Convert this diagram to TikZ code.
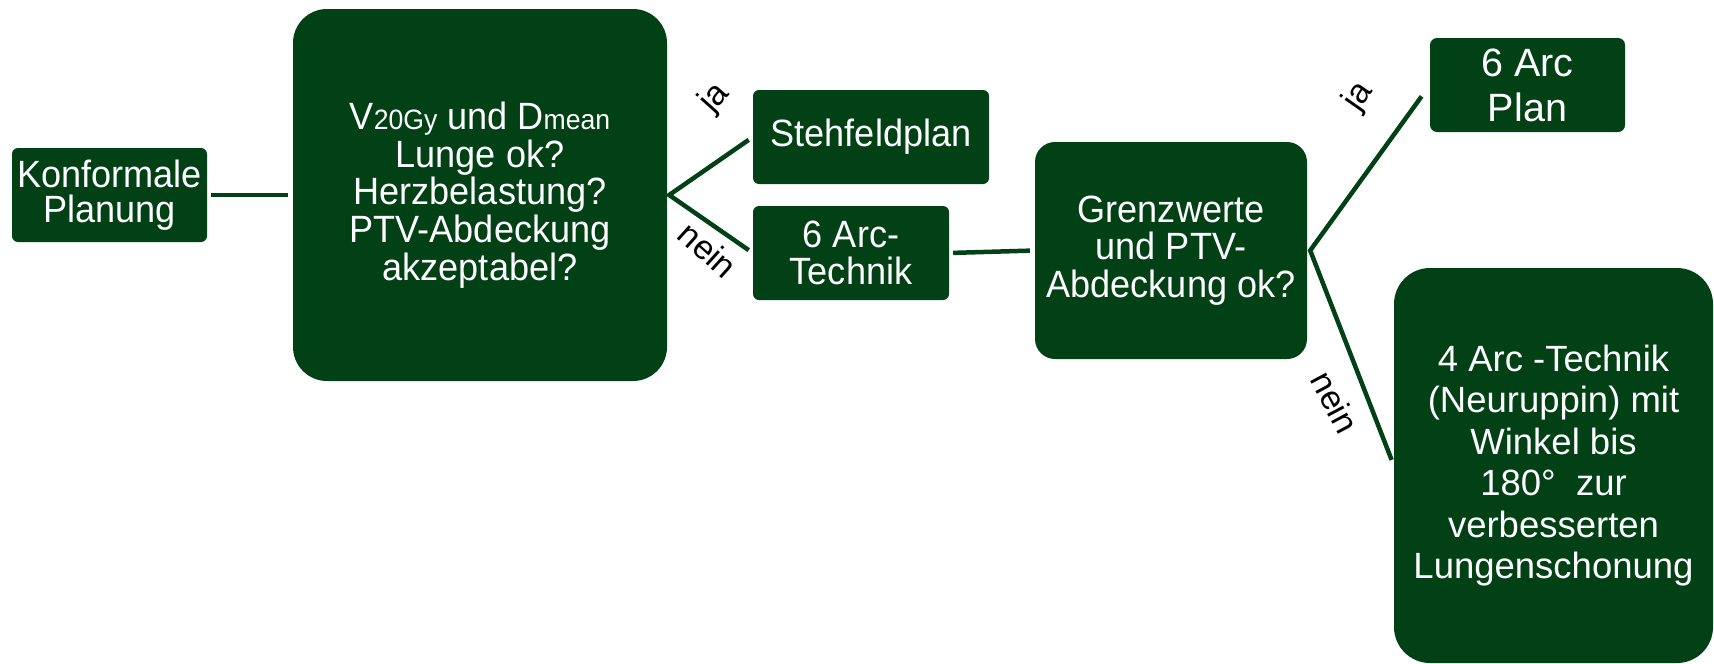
\documentclass[tikz,border=0pt]{standalone}
\usepackage{fontspec}
\setmainfont{Liberation Sans}
\newfontfamily\narrowfont[FakeStretch=0.95]{Liberation Sans}
\definecolor{boxgreen}{RGB}{2,65,21}

\begin{document}
\begin{tikzpicture}[x=1pt,y=-1pt,
  box/.style={fill=boxgreen, text=white, align=center, inner sep=0pt, rounded corners=#1},
  box/.default=6pt,
  lefttext/.style={font=\narrowfont\fontsize{38}{37.7}\selectfont},
  conn/.style={draw=boxgreen, line width=4.5pt},
  lab/.style={text=black, inner sep=0pt, font=\fontsize{34}{34}\selectfont}]
\useasboundingbox (0,0) rectangle (1714,664);

% decision chain, left part
\node[box=6pt, font=\narrowfont\fontsize{38}{35.5}\selectfont,
      minimum width=195pt, minimum height=94pt] (konf) at (109.5,195) {Konformale\\Planung};
\node[box=34pt, lefttext, minimum width=374pt, minimum height=372pt] (q1) at (480,195)
  {V{\fontsize{28}{28}\selectfont 20Gy} und D{\fontsize{28}{28}\selectfont mean}\\Lunge ok?\\Herzbelastung?\\PTV-Abdeckung\\akzeptabel?};
\node[box=6pt, lefttext, minimum width=236pt, minimum height=94pt] (steh) at (871,137) {Stehfeldplan};
\node[box=6pt, lefttext, minimum width=196pt, minimum height=94pt] (arc6) at (851,253) {6 Arc-\\Technik};
\node[box=20pt, lefttext, minimum width=272pt, minimum height=217pt] (grenz) at (1171,250.5)
  {Grenzwerte\\und PTV-\\Abdeckung ok?};

% results, right part
\node[box=7pt, font=\fontsize{39.5}{45}\selectfont,
      minimum width=195pt, minimum height=94pt] (plan6) at (1527.5,85) {6 Arc\\Plan};
\node[box=36pt, font=\fontsize{36.5}{41.5}\selectfont,
      minimum width=319pt, minimum height=395pt] (arc4) at (1553.5,465.5)
  {4 Arc -Technik\\(Neuruppin) mit\\Winkel bis\\180°~~zur\\verbesserten\\Lungenschonung};

% connectors
\coordinate (f1) at ([xshift=2pt]q1.east);
\coordinate (f2) at ([xshift=3pt]grenz.east);
\draw[conn, shorten <=4pt, shorten >=5pt] (konf.east) -- (q1.west);
\draw[conn, shorten <=5pt, shorten >=5pt] (steh.west) -- (f1) -- (arc6.west);
\draw[conn, shorten <=4pt, shorten >=5pt] (arc6.east) -- (grenz.west);
\draw[conn, shorten <=14pt, shorten >=6pt] (plan6.west) -- (f2) -- (arc4.west);

% branch labels
\node[lab, rotate=48] (ja1) at (715,98) {ja};
\node[lab, rotate=-42] (nein1) at (708,250) {nein};
\node[lab, rotate=55] (ja2) at (1359,97) {ja};
\node[lab, rotate=-62] (nein2) at (1335,402) {nein};
\end{tikzpicture}
\end{document}
